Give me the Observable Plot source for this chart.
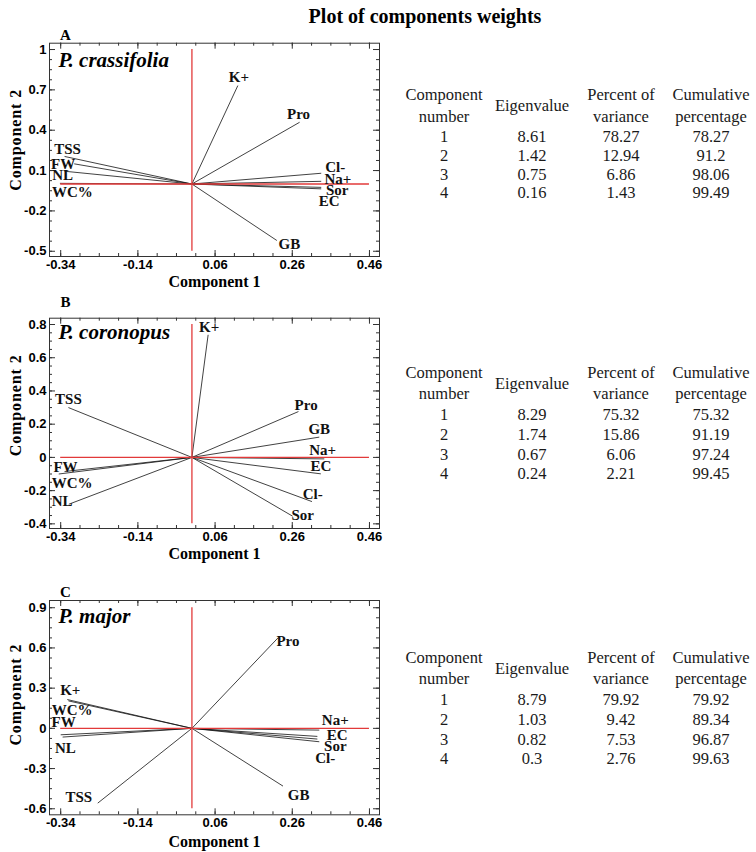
<!DOCTYPE html>
<html><head><meta charset="utf-8">
<script src="https://cdn.jsdelivr.net/npm/d3@7"></script>
<script src="https://cdn.jsdelivr.net/npm/@observablehq/plot@0.6"></script>
<style>
body{margin:0;background:#fff;}
#root{position:relative;width:756px;height:852px;overflow:hidden;background:#fff;}
.title{position:absolute;left:425px;top:5px;transform:translateX(-50%);font-family:"Liberation Serif",serif;font-weight:bold;font-size:20px;white-space:nowrap;color:#000;}
.tcell{position:absolute;font-family:"Liberation Serif",serif;font-size:16.5px;color:#1a1a1a;white-space:nowrap;transform:translate(-50%,-50%);line-height:1;}
</style></head><body><div id="root"><div class="title">Plot of components weights</div></div>
<script>
// ---- tick labels ----
const xTicks = [-0.34, -0.14, 0.06, 0.26, 0.46];
const yTicksA = [-0.5, -0.2, 0.1, 0.4, 0.7, 1];
const yTicksB = [-0.4, -0.2, 0, 0.2, 0.4, 0.6, 0.8];
const yTicksC = [-0.6, -0.3, 0, 0.3, 0.6, 0.9];

// ---- component weights ----
const varsA = ["K+", "Pro", "TSS", "FW", "NL", "WC%", "Cl-", "Na+", "Sor", "EC", "GB"];
const pc1A  = [0.119, 0.279, -0.33, -0.305, -0.33, -0.342, 0.335, 0.335, 0.335, 0.335, 0.22];
const pc2A  = [0.732, 0.459, 0.205, 0.15, 0.095, 0.005, 0.08, 0.02, -0.025, -0.036, -0.42];

const varsB = ["K+", "TSS", "Pro", "GB", "Na+", "EC", "Cl-", "Sor", "FW", "WC%", "NL"];
const pc1B  = [0.042, -0.32, 0.276, 0.33, 0.343, 0.334, 0.311, 0.261, -0.345, -0.33, -0.319];
const pc2B  = [0.738, 0.30, 0.276, 0.122, -0.009, -0.099, -0.266, -0.354, -0.1, -0.085, -0.282];

const varsC = ["Pro", "K+", "WC%", "FW", "NL", "TSS", "GB", "Na+", "EC", "Sor", "Cl-"];
const pc1C  = [0.223, -0.323, -0.32, -0.34, -0.335, -0.244, 0.236, 0.33, 0.325, 0.325, 0.33];
const pc2C  = [0.675, 0.215, 0.205, -0.048, -0.065, -0.558, -0.431, -0.013, -0.06, -0.08, -0.1];

// ---- eigenvalue tables ----
const compNo = [1, 2, 3, 4];
const eigA = [8.61, 1.42, 0.75, 0.16];
const pctA = [78.27, 12.94, 6.86, 1.43];
const cumA = [78.27, 91.2, 98.06, 99.49];
const eigB = [8.29, 1.74, 0.67, 0.24];
const pctB = [75.32, 15.86, 6.06, 2.21];
const cumB = [75.32, 91.19, 97.24, 99.45];
const eigC = [8.79, 1.03, 0.82, 0.3];
const pctC = [79.92, 9.42, 7.53, 2.76];
const cumC = [79.92, 89.34, 96.87, 99.63];

// ---- label nudges (px) ----
const nudgeA = {"K+":[1,-8],"Pro":[-1,-8],"TSS":[3,-7.5],"FW":[-11,0],"NL":[-2,4.4],"WC%":[12.5,9],
  "Cl-":[14,-6],"Na+":[16.7,-2.4],"Sor":[16,3],"EC":[8,12.5],"GB":[12.6,4]};
const nudgeB = {"K+":[1,-8],"TSS":[0,-8],"Pro":[7.7,-6],"GB":[0,-7.7],"Na+":[-1.7,-8.3],"EC":[0,-7.3],
  "Cl-":[0.7,-7.3],"Sor":[10,-1.3],"FW":[6.7,-6.4],"WC%":[7.6,12],"NL":[-6.7,-3.3]};
const nudgeC = {"Pro":[10,3],"K+":[3,-9],"WC%":[3.7,9.6],"FW":[3,-12.6],"NL":[2.8,11],"TSS":[-19,-6],
  "GB":[15.7,8.6],"Na+":[16,-10],"EC":[19.7,-1.7],"Sor":[18,7],"Cl-":[6,16]};

const RED = "#e23a3a";
const SERIF = "Liberation Serif, Times New Roman, serif";
const SANS = "Liberation Sans, Arial, sans-serif";
const W = 390, ML = 49, MR = 11;
const xDomain = [-0.369, 0.486];

function minors(major) {
  const s = (major[1] - major[0]) / 4, out = [];
  for (let i = -4; i <= (major.length - 1) * 4 + 4; i++) out.push(+(major[0] + i * s).toFixed(5));
  return out;
}

const panels = [
  {letter:"A", species:"P. crassifolia", names:varsA, pc1:pc1A, pc2:pc2A, yTicks:yTicksA, nudge:nudgeA,
   top:20, height:270, mt:22.7, mb:34, yDomain:[-0.539, 1.047], letterDy:-8, speciesDy:17.3, ylabDy:-10, xlabDy:25.7},
  {letter:"B", species:"P. coronopus", names:varsB, pc1:pc1B, pc2:pc2B, yTicks:yTicksB, nudge:nudgeB,
   top:295, height:270, mt:22.7, mb:37, yDomain:[-0.428, 0.838], letterDy:-16, speciesDy:14, ylabDy:-18, xlabDy:25},
  {letter:"C", species:"P. major", names:varsC, pc1:pc1C, pc2:pc2C, yTicks:yTicksC, nudge:nudgeC,
   top:577, height:275, mt:23, mb:37.7, yDomain:[-0.645, 0.954], letterDy:-8.3, speciesDy:15.7, ylabDy:-13, xlabDy:27}
];

const root = document.getElementById("root");

for (const p of panels) {
  const innerH = p.height - p.mt - p.mb, innerW = W - ML - MR;
  const rows = p.names.map((n, i) => ({name: n, pc1: p.pc1[i], pc2: p.pc2[i]}));
  const inX = v => v >= xDomain[0] && v <= xDomain[1];
  const inY = v => v >= p.yDomain[0] && v <= p.yDomain[1];
  const xMin = minors(xTicks).filter(inX);
  const yMin = minors(p.yTicks).filter(inY);
  const tk = {stroke: "#333", strokeWidth: 1};
  const labelMarks = rows.map(r => {
    const [dx, dy] = p.nudge[r.name] || [0, -8];
    return Plot.text([r], {x: "pc1", y: "pc2", text: "name", dx, dy, textAnchor: "middle", lineAnchor: "middle",
      fontFamily: SERIF, fontWeight: "bold", fontSize: 15, fill: "#111"});
  });
  const svg = Plot.plot({
    width: W, height: p.height,
    marginLeft: ML, marginRight: MR, marginTop: p.mt, marginBottom: p.mb,
    x: {domain: xDomain, axis: null},
    y: {domain: p.yDomain, axis: null},
    marks: [
      Plot.link(rows, {x1: () => 0, y1: () => 0, x2: "pc1", y2: "pc2", stroke: "#111", strokeWidth: 0.8}),
      Plot.ruleX([0], {y1: () => d3.min(p.yTicks), y2: () => d3.max(p.yTicks), stroke: RED, strokeWidth: 1.3}),
      Plot.ruleY([0], {x1: () => d3.min(xTicks), x2: () => d3.max(xTicks), stroke: RED, strokeWidth: 1.3}),
      Plot.frame({stroke: "#333", strokeWidth: 1}),
      Plot.tickX(xMin, {x: d => d, insetTop: innerH - 3, ...tk}),
      Plot.tickX(xMin, {x: d => d, insetBottom: innerH - 3, ...tk}),
      Plot.tickX(xTicks, {x: d => d, insetTop: innerH - 6, ...tk}),
      Plot.tickX(xTicks, {x: d => d, insetBottom: innerH - 6, ...tk}),
      Plot.tickY(yMin, {y: d => d, insetRight: innerW - 3, ...tk}),
      Plot.tickY(yMin, {y: d => d, insetLeft: innerW - 3, ...tk}),
      Plot.tickY(p.yTicks, {y: d => d, insetRight: innerW - 6, ...tk}),
      Plot.tickY(p.yTicks, {y: d => d, insetLeft: innerW - 6, ...tk}),
      Plot.text(xTicks, {x: d => d, text: d => String(d), frameAnchor: "bottom", dy: 8.5,
        textAnchor: "middle", lineAnchor: "middle",
        fontFamily: SANS, fontWeight: "bold", fontSize: 13, fill: "#000"}),
      Plot.text(p.yTicks, {y: d => d, text: d => String(d), frameAnchor: "left", dx: -3,
        textAnchor: "end", lineAnchor: "middle",
        fontFamily: SANS, fontWeight: "bold", fontSize: 13, fill: "#000"}),
      Plot.text(["Component 1"], {frameAnchor: "bottom", dy: p.xlabDy, text: d => d,
        textAnchor: "middle", lineAnchor: "middle",
        fontFamily: SERIF, fontWeight: "bold", fontSize: 16, fill: "#000"}),
      Plot.text(["Component 2"], {frameAnchor: "left", dx: -34, dy: p.ylabDy, rotate: -90, text: d => d,
        textAnchor: "middle", lineAnchor: "middle",
        fontFamily: SERIF, fontWeight: "bold", fontSize: 16, fill: "#000"}),
      Plot.text([p.letter], {frameAnchor: "top-left", dx: 16, dy: p.letterDy, text: d => d,
        textAnchor: "middle", lineAnchor: "middle",
        fontFamily: SERIF, fontWeight: "bold", fontSize: 15, fill: "#000"}),
      Plot.text([p.species], {frameAnchor: "top-left", dx: 9, dy: p.speciesDy, text: d => d,
        textAnchor: "start", lineAnchor: "middle",
        fontFamily: SERIF, fontWeight: "bold", fontStyle: "italic", fontSize: 21, fill: "#000"}),
      ...labelMarks
    ]
  });
  d3.select(svg).selectAll("text").filter(function() { return this.textContent === "Component 2"; })
    .attr("letter-spacing", "0.9");
  svg.style.position = "absolute";
  svg.style.left = "0px";
  svg.style.top = p.top + "px";
  svg.style.background = "transparent";
  root.appendChild(svg);
}

// ---- tables ----
const tables = [
  {eig: eigA, pct: pctA, cum: cumA, h1: 95, h2: 116.7, r0: 136.7, step: 18.9},
  {eig: eigB, pct: pctB, cum: cumB, h1: 373.3, h2: 394.3, r0: 415, step: 19.8},
  {eig: eigC, pct: pctC, cum: cumC, h1: 658.3, h2: 679.3, r0: 700, step: 19.8}
];
const colX = [444, 532, 621, 711];
function cell(txt, x, y) {
  const d = document.createElement("div");
  d.className = "tcell";
  d.textContent = txt;
  d.style.left = x + "px";
  d.style.top = y + "px";
  root.appendChild(d);
}
for (const t of tables) {
  cell("Component", colX[0], t.h1); cell("number", colX[0], t.h2);
  cell("Eigenvalue", colX[1], (t.h1 + t.h2) / 2);
  cell("Percent of", colX[2], t.h1); cell("variance", colX[2], t.h2);
  cell("Cumulative", colX[3], t.h1); cell("percentage", colX[3], t.h2);
  compNo.forEach((c, i) => {
    const y = t.r0 + i * t.step;
    cell(String(c), colX[0], y);
    cell(String(t.eig[i]), colX[1], y);
    cell(String(t.pct[i]), colX[2], y);
    cell(String(t.cum[i]), colX[3], y);
  });
}
</script>
</body></html>
